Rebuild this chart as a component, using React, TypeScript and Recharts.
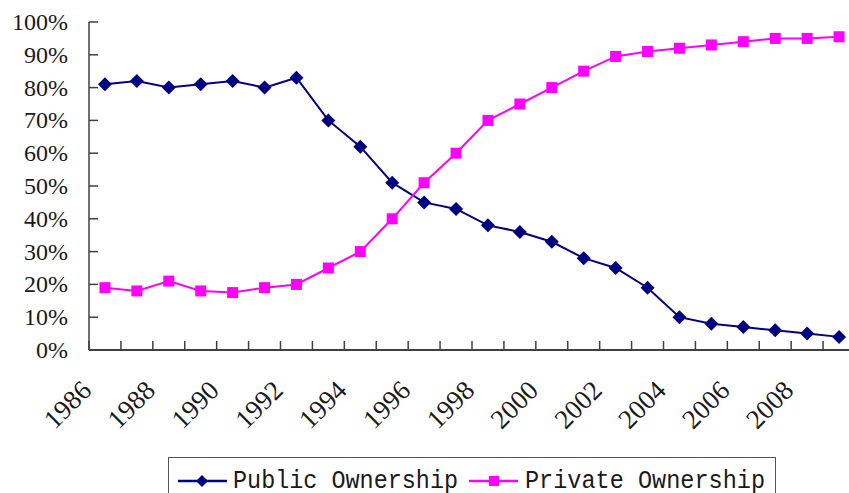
import { Line, LineChart, XAxis, YAxis } from "recharts";

const years = [
  "1986", "1987", "1988", "1989", "1990", "1991", "1992", "1993",
  "1994", "1995", "1996", "1997", "1998", "1999", "2000", "2001",
  "2002", "2003", "2004", "2005", "2006", "2007", "2008", "2009",
];

const publicShare = [
  81, 82, 80, 81, 82, 80, 83, 70, 62, 51, 45, 43, 38, 36, 33, 28, 25, 19,
  10, 8, 7, 6, 5, 4,
];

const privateShare = [
  19, 18, 21, 18, 17.5, 19, 20, 25, 30, 40, 51, 60, 70, 75, 80, 85, 89.5,
  91, 92, 93, 94, 95, 95, 95.5,
];

const yTicks = [0, 10, 20, 30, 40, 50, 60, 70, 80, 90, 100];

const PUBLIC_NAME = "Public Ownership";
const PRIVATE_NAME = "Private Ownership";
const NAVY = "#000080";
const MAGENTA = "#FF00FF";
const AXIS = "#404040";
const SERIF = "'Liberation Serif', 'DejaVu Serif', serif";
const MONO = "'Liberation Mono', 'DejaVu Sans Mono', monospace";
const HALF_BAND = 15.96;

const data = years.map((year, i) => ({
  year,
  pub: publicShare[i],
  priv: privateShare[i],
}));

function Diamond({ cx, cy, r = 7, fill = NAVY }: any) {
  if (cx == null || cy == null) return null;
  return (
    <polygon
      points={`${cx},${cy - r} ${cx + r},${cy} ${cx},${cy + r} ${cx - r},${cy}`}
      fill={fill}
    />
  );
}

function Square({ cx, cy, s = 5.5, fill = MAGENTA }: any) {
  if (cx == null || cy == null) return null;
  return <rect x={cx - s} y={cy - s} width={s * 2} height={s * 2} fill={fill} />;
}

function YTick({ x, y, payload }: any) {
  return (
    <g>
      <line x1={x} y1={y} x2={x + 9} y2={y} stroke={AXIS} strokeWidth={1.5} />
      <text
        x={x - 21}
        y={y + 8}
        textAnchor="end"
        fontFamily={SERIF}
        fontSize={24}
        fill="#1a1a1a"
      >
        {`${payload.value}%`}
      </text>
    </g>
  );
}

function XTick({ x, y, payload, index }: any) {
  const half = payload?.offset || HALF_BAND;
  const tx = x - half;
  const lx = x - 12;
  const ly = y + 42;
  return (
    <g>
      <line x1={tx} y1={y} x2={tx} y2={y - 9} stroke={AXIS} strokeWidth={1.5} />
      {index % 2 === 0 && (
        <text
          x={lx}
          y={ly}
          textAnchor="end"
          fontFamily={SERIF}
          fontSize={27}
          fill="#1a1a1a"
          transform={`rotate(-45 ${lx} ${ly})`}
        >
          {payload.value}
        </text>
      )}
    </g>
  );
}

function LegendBox() {
  return (
    <svg
      width={849}
      height={493}
      style={{ position: "absolute", left: 0, top: 0, pointerEvents: "none" }}
    >
      <rect x={168.5} y={457.5} width={607} height={60} fill="#fff" stroke="#555" />
      <line x1={178} y1={481} x2={227} y2={481} stroke={NAVY} strokeWidth={2.5} />
      <Diamond cx={202} cy={481} r={6} />
      <text
        x={233}
        y={488}
        fontFamily={MONO}
        fontSize={26}
        textLength={225}
        lengthAdjust="spacingAndGlyphs"
        fill="#1a1a1a"
      >
        {PUBLIC_NAME}
      </text>
      <line x1={469} y1={481} x2={518} y2={481} stroke={MAGENTA} strokeWidth={2.5} />
      <Square cx={494} cy={481} s={5} />
      <text
        x={525}
        y={488}
        fontFamily={MONO}
        fontSize={26}
        textLength={240}
        lengthAdjust="spacingAndGlyphs"
        fill="#1a1a1a"
      >
        {PRIVATE_NAME}
      </text>
    </svg>
  );
}

export default function App() {
  return (
    <div
      style={{
        position: "fixed",
        left: 0,
        top: 0,
        width: 849,
        height: 493,
        overflow: "hidden",
        background: "#fff",
      }}
    >
      <LineChart
        width={870}
        height={493}
        data={data}
        margin={{ top: 22, right: 15, left: 0, bottom: 0 }}
      >
        <XAxis
          dataKey="year"
          scale="band"
          interval={0}
          height={143}
          tickSize={0}
          tickMargin={0}
          tickLine={false}
          axisLine={{ stroke: AXIS, strokeWidth: 2 }}
          tick={<XTick />}
        />
        <YAxis
          width={89}
          domain={[0, 100]}
          ticks={yTicks}
          interval={0}
          tickSize={0}
          tickMargin={0}
          tickLine={false}
          axisLine={{ stroke: AXIS, strokeWidth: 1.5 }}
          tick={<YTick />}
        />
        <Line
          dataKey="pub"
          name={PUBLIC_NAME}
          type="linear"
          stroke={NAVY}
          strokeWidth={2}
          dot={(p: any) => <Diamond key={`d${p.index}`} cx={p.cx} cy={p.cy} />}
          activeDot={false}
          isAnimationActive={false}
        />
        <Line
          dataKey="priv"
          name={PRIVATE_NAME}
          type="linear"
          stroke={MAGENTA}
          strokeWidth={2}
          dot={(p: any) => <Square key={`s${p.index}`} cx={p.cx} cy={p.cy} />}
          activeDot={false}
          isAnimationActive={false}
        />
      </LineChart>
      <LegendBox />
    </div>
  );
}
